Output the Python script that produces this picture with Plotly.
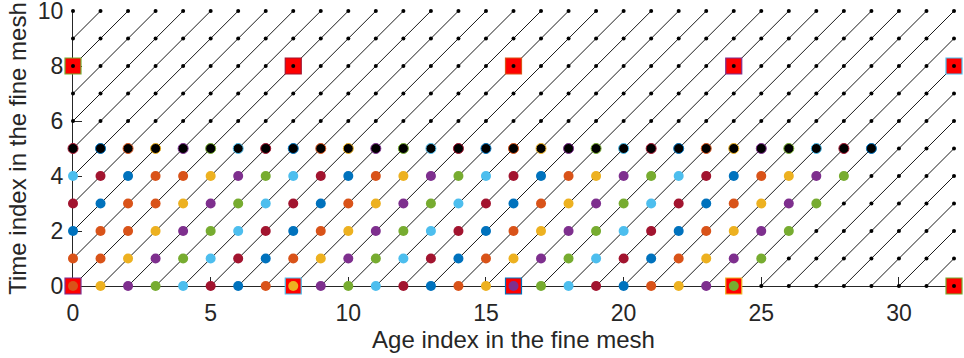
import plotly.graph_objects as go

# Fine index mesh
age_index = list(range(0, 33))      # ages 0..32
time_index = list(range(0, 11))     # times 0..10

# Rows of the fine mesh already computed (coloured by characteristic)
computed_times = [0, 1, 2, 3, 4]
computed_last_age = [24, 25, 26, 27, 28]

# Current time row
current_time = 5
current_last_age = 29

# Coarse mesh nodes
coarse_ages = [0, 8, 16, 24, 32]
coarse_times = [0, 8]

# Axis ticks
x_ticks = [0, 5, 10, 15, 20, 25, 30]
y_ticks = [0, 2, 4, 6, 8, 10]

# MATLAB default colour order
palette = ["#0072BD", "#D95319", "#EDB120", "#7E2F8E",
           "#77AC30", "#4DBEEE", "#A2142F"]

a_max = age_index[-1]
t_max = time_index[-1]

fig = go.Figure()

# Characteristic lines (slope 1), starting from t = 0 and from a = 0
lx, ly = [], []
for a0 in age_index[:-1]:
    span = min(a_max - a0, t_max)
    lx += [a0, a0 + span, None]
    ly += [0, span, None]
for t0 in time_index[1:-1]:
    span = t_max - t0
    lx += [0, span, None]
    ly += [t0, t0 + span, None]
fig.add_trace(go.Scatter(x=lx, y=ly, mode="lines",
                         line=dict(color="#1a1a1a", width=1),
                         hoverinfo="skip", showlegend=False))

# Coarse nodes: red squares, edge colour cycling through the colour order
sq_x, sq_y, sq_edge = [], [], []
k = 3
for a in coarse_ages:
    for t in coarse_times:
        sq_x.append(a)
        sq_y.append(t)
        sq_edge.append(palette[k % 7])
        k += 1
fig.add_trace(go.Scatter(x=sq_x, y=sq_y, mode="markers",
                         marker=dict(symbol="square", size=16, color="#FF0000",
                                     line=dict(color=sq_edge, width=1.2)),
                         cliponaxis=False, showlegend=False))

# All fine mesh nodes: small black dots
gx, gy = [], []
for t in time_index:
    for a in age_index:
        gx.append(a)
        gy.append(t)
fig.add_trace(go.Scatter(x=gx, y=gy, mode="markers",
                         marker=dict(size=4, color="black"),
                         cliponaxis=False, showlegend=False))

# Computed nodes, coloured by the characteristic they lie on
cx, cy, cc = [], [], []
for t, last in zip(computed_times, computed_last_age):
    for a in age_index:
        if a > last:
            break
        if a >= t:
            idx = (a - t + 1) % 7
        else:
            idx = (2 - (t - a)) % 7
        cx.append(a)
        cy.append(t)
        cc.append(palette[idx])
fig.add_trace(go.Scatter(x=cx, y=cy, mode="markers",
                         marker=dict(size=10, color=cc, line=dict(width=0)),
                         cliponaxis=False, showlegend=False))

# Current time row: black dots with coloured edges
bx, by, bc = [], [], []
for a in age_index:
    if a > current_last_age:
        break
    bx.append(a)
    by.append(current_time)
    bc.append(palette[(a - 1) % 7])
fig.add_trace(go.Scatter(x=bx, y=by, mode="markers",
                         marker=dict(size=10, color="black",
                                     line=dict(color=bc, width=1)),
                         cliponaxis=False, showlegend=False))

axis_font = dict(family="Liberation Sans, Arial, sans-serif", size=23, color="#262626")
title_font = dict(family="Liberation Sans, Arial, sans-serif", size=24, color="#262626")

fig.update_layout(
    width=964, height=358,
    margin=dict(l=73, r=10, t=11, b=72, autoexpand=False),
    plot_bgcolor="white", paper_bgcolor="white",
    xaxis=dict(range=[0, 32], tickvals=x_ticks, automargin=False,
               ticks="inside", ticklen=9, tickcolor="#262626", tickwidth=1,
               showline=True, linecolor="#262626", linewidth=1,
               showgrid=False, zeroline=False, layer="below traces",
               tickfont=axis_font, ticklabelstandoff=6, ticklabeloverflow="allow",
               title=dict(text="Age index in the fine mesh", font=title_font, standoff=2)),
    yaxis=dict(range=[0, 10], tickvals=y_ticks, automargin=False,
               ticks="inside", ticklen=9, tickcolor="#262626", tickwidth=1,
               showline=True, linecolor="#262626", linewidth=1,
               showgrid=False, zeroline=False, layer="below traces",
               tickfont=axis_font, ticklabelstandoff=4, ticklabeloverflow="allow",
               title=dict(text="Time index in the fine mesh", font=title_font, standoff=4)),
)

fig.write_html("out.html")
